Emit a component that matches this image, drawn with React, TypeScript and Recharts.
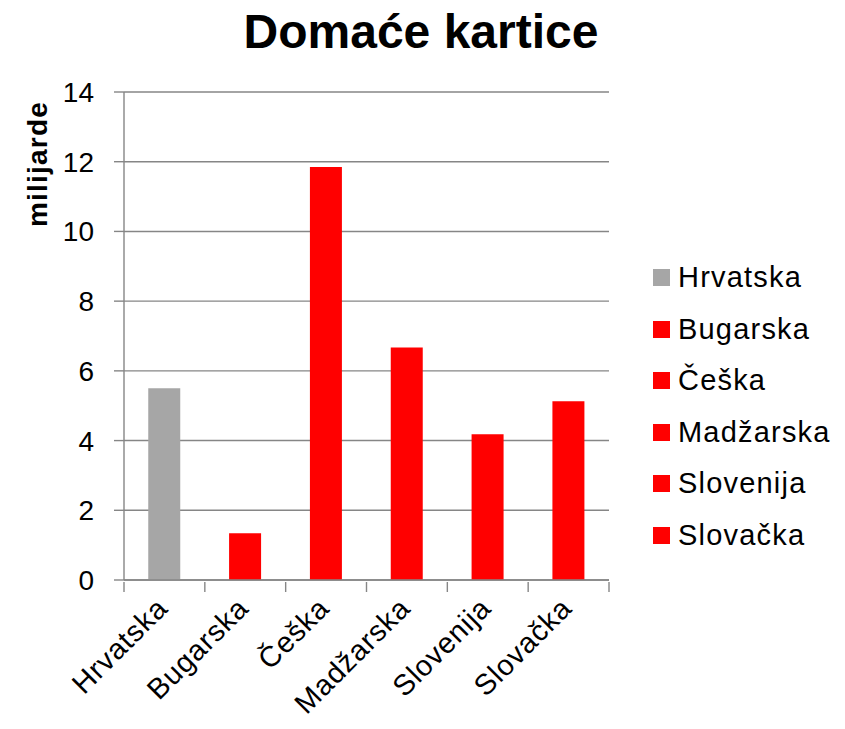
import React from 'react';
import { BarChart, Bar, XAxis, YAxis, CartesianGrid, Legend, Cell, Label } from 'recharts';

const categories = ['Hrvatska', 'Bugarska', 'Češka', 'Madžarska', 'Slovenija', 'Slovačka'];
const values = [5.5, 1.34, 11.85, 6.67, 4.18, 5.13];
const barColors = ['#a6a6a6', '#ff0000', '#ff0000', '#ff0000', '#ff0000', '#ff0000'];
const yTicks = [0, 2, 4, 6, 8, 10, 12, 14];

const data = categories.map((name, i) => ({ name, value: values[i] }));

const FONT = '"Liberation Sans", Arial, sans-serif';
const GRID = '#868686';

// category label plus Excel-style tick marks between categories
const CategoryTick = (props: any) => {
  const { x, y, payload, index, width } = props;
  const half = payload.offset || width / categories.length / 2;
  const ax = x + 5;
  const ay = y + 20;
  const top = y - 8;
  return (
    <g>
      <line x1={x - half} x2={x - half} y1={top} y2={top + 10} stroke={GRID} strokeWidth={1.4} />
      {index === categories.length - 1 && (
        <line x1={x + half} x2={x + half} y1={top} y2={top + 10} stroke={GRID} strokeWidth={1.4} />
      )}
      <text
        x={ax}
        y={ay}
        textAnchor="end"
        transform={`rotate(-45, ${ax}, ${ay})`}
        fontSize={29}
        fontFamily={FONT}
        fill="#000"
        letterSpacing={0.8}
      >
        {payload.value}
      </text>
    </g>
  );
};

const LegendList = () => (
  <div style={{ fontFamily: FONT }}>
    {categories.map((name, i) => (
      <div key={name} style={{ display: 'flex', alignItems: 'center', height: 51.5 }}>
        <span style={{ width: 17, height: 17, background: barColors[i], marginRight: 8, display: 'inline-block' }} />
        <span style={{ fontSize: 29, letterSpacing: 1.2, color: '#000', lineHeight: 1 }}>{name}</span>
      </div>
    ))}
  </div>
);

export default function App() {
  return (
    <div style={{ position: 'absolute', left: 0, top: 0, width: 845, height: 729, background: '#fff' }}>
      <BarChart
        width={845}
        height={729}
        data={data}
        margin={{ top: 92, right: 44, bottom: 0, left: 0 }}
        barCategoryGap="30%"
      >
        <text x={421} y={48} textAnchor="middle" fontSize={48} fontWeight="bold" fontFamily={FONT} fill="#000">
          Domaće kartice
        </text>
        <CartesianGrid vertical={false} stroke={GRID} strokeWidth={1.4} />
        <XAxis
          dataKey="name"
          height={149}
          interval={0}
          tickSize={8}
          axisLine={{ stroke: GRID, strokeWidth: 1.4 }}
          tickLine={false}
          tick={<CategoryTick />}
        />
        <YAxis
          domain={[0, 14]}
          ticks={yTicks}
          width={124}
          tickSize={10}
          tickMargin={20}
          axisLine={{ stroke: GRID, strokeWidth: 1.4 }}
          tickLine={{ stroke: GRID, strokeWidth: 1.4 }}
          tick={{ fontSize: 28, fontFamily: FONT, fill: '#000' }}
        >
          <Label
            content={() => (
              <text
                x={47}
                y={164}
                textAnchor="middle"
                transform="rotate(-90, 47, 164)"
                fontSize={28}
                fontWeight="bold"
                fontFamily={FONT}
                fill="#000"
                letterSpacing={1.2}
              >
                milijarde
              </text>
            )}
          />
        </YAxis>
        <Legend
          layout="vertical"
          align="right"
          verticalAlign="middle"
          content={<LegendList />}
          wrapperStyle={{ left: 653, top: 252, width: 192 }}
        />
        <Bar dataKey="value" isAnimationActive={false}>
          {data.map((d, i) => (
            <Cell key={d.name} fill={barColors[i]} />
          ))}
        </Bar>
      </BarChart>
    </div>
  );
}
